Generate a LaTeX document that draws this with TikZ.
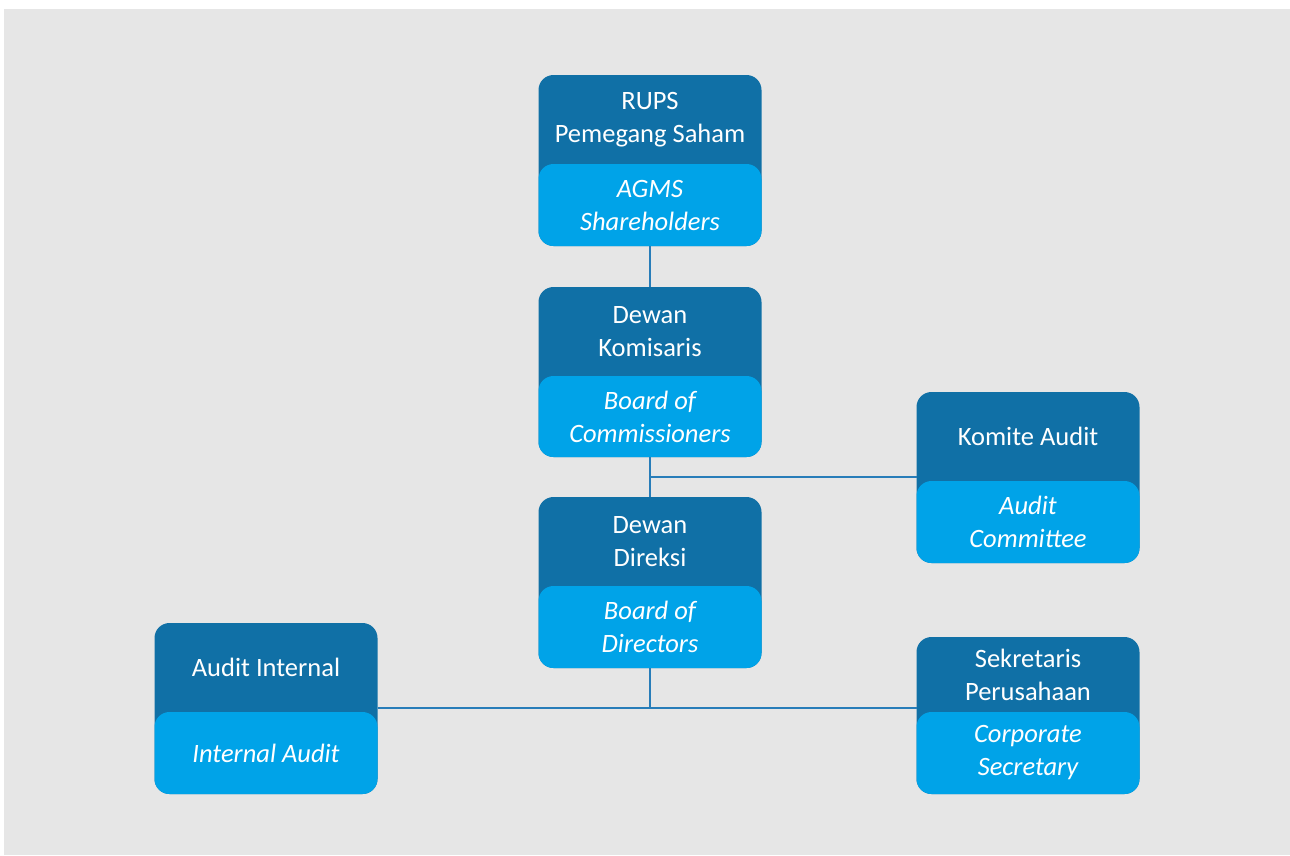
\documentclass[tikz,border=0pt]{standalone}
\usepackage{fontspec}
\setmainfont{Carlito}
\definecolor{bgGray}{RGB}{230,230,230}
\definecolor{darkBlue}{RGB}{16,112,166}
\definecolor{lightBlue}{RGB}{0,163,232}
\definecolor{lineBlue}{RGB}{40,125,185}
\tikzset{
  boxpart/.style={rectangle, rounded corners=15pt, inner sep=0pt, outer sep=0pt, minimum width=223pt, draw=none},
  topbox/.style={boxpart, fill=darkBlue},
  botbox/.style={boxpart, fill=lightBlue, text=white, align=center, font=\fontsize{26.5}{33}\selectfont\itshape},
  toplabel/.style={text=white, align=center, inner sep=0pt, font=\fontsize{26.5}{33}\selectfont},
  conn/.style={draw=lineBlue, line width=1.6pt}
}
% #1 name, #2 x centre, #3 top, #4 split, #5 bottom, #6 top text, #7 bottom text
\newcommand{\orgbox}[7]{%
  \node[topbox, minimum height={#5-#3}] (#1T) at ({#2},{(#3+#5)/2}) {};
  \node[botbox, minimum height={#5-#4}] (#1B) at ({#2},{(#4+#5)/2}) {#7};
  \node[toplabel] (#1L) at ({#2},{(#3+#4)/2}) {#6};
}
\begin{document}
\begin{tikzpicture}[x=1pt,y=-1pt]
\useasboundingbox (0,0) rectangle (1290,855);
\fill[white] (0,0) rectangle (1290,855);
\fill[bgGray] (4,9) rectangle (1290,855);

\orgbox{rups}{650}{75}{164}{246}{RUPS\\Pemegang Saham}{AGMS\\Shareholders}
\orgbox{dk}{650}{287}{376}{457}{Dewan\\Komisaris}{Board of\\Commissioners}
\orgbox{ka}{1028}{392}{481}{563}{Komite Audit}{Audit\\Committee}
\orgbox{dd}{650}{497}{586}{668}{Dewan\\Direksi}{Board of\\Directors}
\orgbox{ai}{266}{623}{712}{794}{Audit Internal}{Internal Audit}
\orgbox{sk}{1028}{637}{712}{794}{Sekretaris\\Perusahaan}{Corporate\\Secretary}

\coordinate (j1) at (650,477);
\coordinate (j2) at (650,708);
\draw[conn] (rupsB.south) -- (dkT.north);
\draw[conn] (dkB.south) -- (ddT.north);
\draw[conn] (j1) -- (j1 -| kaT.west);
\draw[conn] (ddB.south) -- (j2);
\draw[conn] (j2 -| aiT.east) -- (j2 -| skT.west);
\end{tikzpicture}
\end{document}
